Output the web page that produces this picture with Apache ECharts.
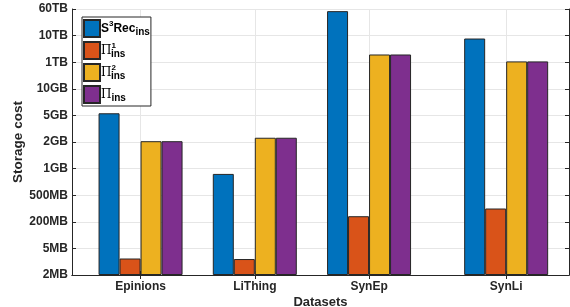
<!DOCTYPE html>
<html>
<head>
<meta charset="utf-8">
<script src="https://cdn.jsdelivr.net/npm/echarts@6/dist/echarts.min.js"></script>
<style>
  html, body { margin: 0; padding: 0; background: #fff; }
  #chart { width: 570px; height: 307px; }
</style>
</head>
<body>
<div id="chart"></div>
<script>
// datasets and where they sit on the x axis (SynLi is set apart)
var datasets = ['Epinions', 'LiThing', 'SynEp', 'SynLi'];
var datasetPos = [1, 2, 3, 4.2];

// y axis is evenly spaced ticks with these labels (index 0..10)
var yTickLabels = ['2MB', '5MB', '200MB', '500MB', '1GB', '2GB', '5GB', '10GB', '1TB', '10TB', '60TB'];

// bar heights, read as positions on the tick index scale
var s3recIns = [6.08, 3.80, 9.92, 8.89];
var pi1Ins   = [0.62, 0.60, 2.21, 2.50];
var pi2Ins   = [5.03, 5.16, 8.29, 8.03];
var piIns    = [5.03, 5.16, 8.29, 8.03];

var seriesNames = ['S3Rec', 'Pi1', 'Pi2', 'Pi'];
var colors = ['#0072BD', '#D95319', '#EDB120', '#7E2F8E'];

function pairs(vals) {
  var out = [];
  for (var i = 0; i < vals.length; i++) {
    out.push([datasetPos[i], vals[i]]);
  }
  return out;
}

var fontBold = 'Liberation Sans';
var axisColor = '#262626';

var richLegend = {
  b:   { fontFamily: fontBold, fontWeight: 'bold', fontSize: 12, color: '#000', lineHeight: 18, verticalAlign: 'middle' },
  P:   { fontFamily: 'DejaVu Serif', fontSize: 12, color: '#000', lineHeight: 18, verticalAlign: 'middle' },
  sup: { fontFamily: fontBold, fontWeight: 'bold', fontSize: 8, color: '#000', lineHeight: 18, verticalAlign: 'top' },
  sub: { fontFamily: fontBold, fontWeight: 'bold', fontSize: 10, color: '#000', lineHeight: 18, verticalAlign: 'bottom' },
  subs: { fontFamily: fontBold, fontWeight: 'bold', fontSize: 10, color: '#000', lineHeight: 18, verticalAlign: 'bottom', padding: [0, 0, 0, -5] }
};
var legendText = {
  'S3Rec': '{b|S}{sup|3}{b|Rec}{sub|ins}',
  'Pi1': '{P|Π}{sup|1}{subs|ins}',
  'Pi2': '{P|Π}{sup|2}{subs|ins}',
  'Pi':  '{P|Π}{sub|ins}'
};

var vals = [s3recIns, pi1Ins, pi2Ins, piIns];
var series = [];
for (var k = 0; k < vals.length; k++) {
  series.push({
    name: seriesNames[k],
    type: 'bar',
    data: pairs(vals[k]),
    barWidth: 21,
    barGap: '0%',
    itemStyle: { color: colors[k], borderColor: axisColor, borderWidth: 1 },
    emphasis: { disabled: true }
  });
}

var chart = echarts.init(document.getElementById('chart'));
chart.setOption({
  animation: false,
  grid: { left: 72, top: 9, right: 1, bottom: 32, outerBoundsMode: 'none', containLabel: false },
  legend: {
    orient: 'vertical',
    left: 82,
    top: 17,
    itemWidth: 16,
    itemHeight: 17,
    itemGap: 3,
    padding: [2, 1, 2, 1],
    icon: 'rect',
    backgroundColor: '#fff',
    borderColor: axisColor,
    borderWidth: 1,
    borderRadius: 0,
    selectedMode: false,
    data: seriesNames,
    formatter: function (name) { return legendText[name]; },
    textStyle: { rich: richLegend, padding: [0, 0, 0, -4] }
  },
  xAxis: [{
    type: 'value',
    min: 0.4,
    max: 4.75,
    name: 'Datasets',
    nameLocation: 'middle',
    nameGap: 21,
    nameMoveOverlap: false,
    nameTextStyle: { fontFamily: fontBold, fontWeight: 'bold', fontSize: 13, color: axisColor },
    axisLine: { show: true, lineStyle: { color: axisColor } },
    axisTick: { show: true, inside: true, length: 4, customValues: datasetPos, lineStyle: { color: axisColor } },
    axisLabel: {
      customValues: datasetPos,
      margin: 6,
      fontFamily: fontBold, fontWeight: 'bold', fontSize: 12, color: axisColor,
      formatter: function (v) {
        for (var i = 0; i < datasetPos.length; i++) {
          if (Math.abs(datasetPos[i] - v) < 1e-6) return datasets[i];
        }
        return '';
      }
    },
    splitLine: { show: true, lineStyle: { color: '#e6e6e6' } }
  }, {
    type: 'value',
    position: 'top',
    min: 0.4,
    max: 4.75,
    axisLine: { show: true, lineStyle: { color: axisColor } },
    axisTick: { show: true, inside: true, length: 4, customValues: datasetPos, lineStyle: { color: axisColor } },
    axisLabel: { show: false },
    splitLine: { show: false }
  }],
  yAxis: [{
    type: 'value',
    min: 0,
    max: 10,
    interval: 1,
    name: 'Storage cost',
    nameLocation: 'middle',
    nameGap: 47,
    nameMoveOverlap: false,
    nameTextStyle: { fontFamily: fontBold, fontWeight: 'bold', fontSize: 13.5, color: axisColor },
    axisLine: { show: true, lineStyle: { color: axisColor } },
    axisTick: { show: true, inside: true, length: 4, lineStyle: { color: axisColor } },
    axisLabel: {
      margin: 4,
      fontFamily: fontBold, fontWeight: 'bold', fontSize: 12, color: axisColor,
      formatter: function (v) { return yTickLabels[Math.round(v)]; }
    },
    splitLine: { show: true, lineStyle: { color: '#e6e6e6' } }
  }, {
    type: 'value',
    position: 'right',
    min: 0,
    max: 10,
    interval: 1,
    axisLine: { show: true, lineStyle: { color: axisColor } },
    axisTick: { show: true, inside: true, length: 4, lineStyle: { color: axisColor } },
    axisLabel: { show: false },
    splitLine: { show: false }
  }],
  series: series
});
</script>
</body>
</html>
